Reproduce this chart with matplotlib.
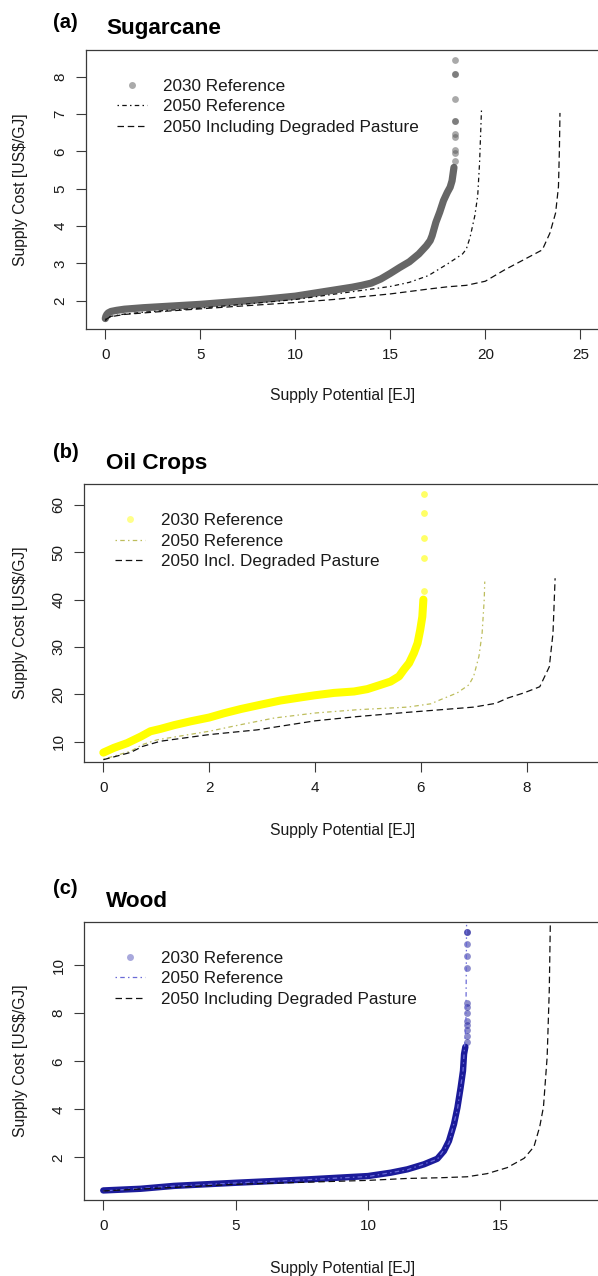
import matplotlib
matplotlib.use("Agg")
import matplotlib.pyplot as plt
from matplotlib.lines import Line2D

plt.rcParams['font.family'] = ['Liberation Sans', 'DejaVu Sans']

# ---------------- data ----------------
# (a) Sugarcane
sug_2030_x = [0, 0.03, 0.08, 0.15, 0.3, 0.6, 1.0, 2.0, 3.0, 4.0, 5.0, 6.0, 7.0, 8.0, 9.0,
              10.0, 11.0, 12.0, 13.0, 13.5, 14.0, 14.5, 15.0, 15.5, 16.0, 16.5, 16.9, 17.1,
              17.2, 17.4, 17.6, 17.8, 18.0, 18.15, 18.25, 18.3, 18.35]
sug_2030_y = [1.52, 1.58, 1.63, 1.67, 1.71, 1.74, 1.77, 1.81, 1.84, 1.87, 1.90, 1.94, 1.98, 2.02, 2.07,
              2.12, 2.20, 2.28, 2.36, 2.41, 2.47, 2.58, 2.73, 2.89, 3.04, 3.25, 3.47, 3.61,
              3.74, 4.10, 4.37, 4.68, 4.90, 5.04, 5.21, 5.39, 5.57]
sug_2030_tail_x = [18.4, 18.4, 18.4, 18.4, 18.4, 18.4, 18.4, 18.4, 18.4, 18.4, 18.4]
sug_2030_tail_y = [5.75, 5.95, 6.03, 6.38, 6.46, 6.82, 6.82, 7.40, 8.07, 8.07, 8.46]
sug_2050_x = [0, 0.1, 0.3, 1, 2, 3, 5, 7, 10, 12, 14, 15, 16, 17, 18, 18.8, 19.0, 19.2,
              19.45, 19.6, 19.7, 19.75, 19.8]
sug_2050_y = [1.49, 1.54, 1.58, 1.64, 1.69, 1.73, 1.80, 1.89, 2.03, 2.17, 2.31, 2.38, 2.49, 2.67,
              2.98, 3.25, 3.38, 3.70, 4.28, 4.81, 5.71, 6.42, 7.12]
sug_2050dp_x = [0, 0.1, 0.3, 1, 2, 3, 5, 7, 10, 12, 13, 15, 17, 18, 19, 20, 21, 22, 23,
                23.4, 23.7, 23.85, 23.9, 23.93]
sug_2050dp_y = [1.46, 1.52, 1.57, 1.63, 1.67, 1.71, 1.78, 1.85, 1.95, 2.03, 2.08, 2.18, 2.31, 2.37,
                2.41, 2.52, 2.82, 3.09, 3.36, 3.81, 4.35, 5.05, 6.04, 7.03]

# (b) Oil crops
oil_2030_x = [0, 0.2, 0.45, 0.71, 0.89, 1.08, 1.34, 1.65, 2.0, 2.28, 2.6, 2.97, 3.35, 3.73,
              4.0, 4.36, 4.74, 4.99, 5.24, 5.43, 5.59, 5.68, 5.78, 5.87, 5.94, 5.99, 6.03, 6.05]
oil_2030_y = [7.7, 8.7, 9.7, 11.1, 12.2, 12.7, 13.5, 14.3, 15.1, 16.0, 16.9, 17.8, 18.7, 19.35,
              19.8, 20.3, 20.6, 21.1, 22.0, 22.7, 23.8, 25.2, 26.6, 28.7, 30.8, 33.6, 36.4, 40.0]
oil_2030_tail_x = [6.07, 6.07, 6.07, 6.07, 6.07]
oil_2030_tail_y = [41.9, 48.8, 52.9, 58.2, 62.2]
oil_2050_x = [0, 0.52, 0.74, 1.02, 2.0, 2.6, 3.23, 4.0, 4.8, 5.75, 6.19, 6.38, 6.69, 6.91,
              7.0, 7.1, 7.16, 7.2, 7.21]
oil_2050_y = [6.3, 8.0, 9.4, 10.4, 12.2, 13.6, 15.0, 16.05, 16.75, 17.3, 18.0, 18.9, 20.3, 22.0,
              23.8, 28.0, 32.9, 40.0, 43.8]
oil_2050dp_x = [0, 0.52, 0.74, 1.08, 2.0, 2.91, 4.0, 4.8, 5.75, 6.38, 7.0, 7.42, 7.64, 7.95,
                8.25, 8.43, 8.5, 8.54]
oil_2050dp_y = [6.2, 7.75, 9.0, 10.1, 11.5, 12.5, 14.4, 15.3, 16.2, 16.75, 17.3, 18.1, 19.2, 20.3,
                21.6, 25.8, 32.9, 44.5]

# (c) Wood
wood_2030_x = [0, 1.41, 2.67, 5.0, 7.71, 10.0, 10.86, 11.49, 12.12, 12.62, 12.87, 13.06, 13.25,
               13.38, 13.5, 13.59, 13.63, 13.68]
wood_2030_y = [0.62, 0.69, 0.81, 0.94, 1.08, 1.22, 1.36, 1.5, 1.71, 1.94, 2.26, 2.68, 3.38,
               4.07, 4.9, 5.6, 6.3, 6.6]
wood_2030_tail_x = [13.73] * 13
wood_2030_tail_y = [6.8, 7.06, 7.3, 7.5, 7.68, 8.0, 8.26, 8.44, 9.9, 10.4, 10.9, 11.4, 11.4]
wood_2050_x = [0, 2.67, 5.0, 7.71, 10.0, 11.49, 12.62, 13.06, 13.38, 13.59, 13.7, 13.73]
wood_2050_y = [0.6, 0.8, 0.93, 1.07, 1.2, 1.48, 1.92, 2.6, 4.0, 5.6, 7.5, 12.5]
wood_2050dp_x = [0, 5.0, 10.0, 11.49, 12.75, 13.75, 14.5, 15.26, 15.9, 16.27, 16.49, 16.63,
                 16.77, 16.85, 16.9]
wood_2050dp_y = [0.6, 0.875, 1.04, 1.12, 1.15, 1.19, 1.32, 1.57, 1.96, 2.44, 3.28, 4.1,
                 6.19, 8.97, 12.5]

panel_letters = ["(a)", "(b)", "(c)"]
panel_titles = ["Sugarcane", "Oil Crops", "Wood"]
legend_labels = [
    ["2030 Reference", "2050 Reference", "2050 Including Degraded Pasture"],
    ["2030 Reference", "2050 Reference", "2050 Incl. Degraded Pasture"],
    ["2030 Reference", "2050 Reference", "2050 Including Degraded Pasture"],
]
xticks = [[0, 5, 10, 15, 20, 25], [0, 2, 4, 6, 8], [0, 5, 10, 15]]
yticks = [[2, 3, 4, 5, 6, 7, 8], [10, 20, 30, 40, 50, 60], [2, 4, 6, 8, 10]]
xlims = [(-1, 26), (-0.36, 9.4), (-0.72, 18.8)]
ylims = [(1.24, 8.73), (5.65, 64.4), (0.21, 11.8)]

# ---------------- layout ----------------
W, H = 598, 1276
fig = plt.figure(figsize=(W / 100, H / 100), dpi=100)

def fx(px):
    return px / W

def fy(py):
    return 1 - py / H

# axes pixel boxes: left, right, top, bottom
boxes = [(86.3, 599.3, 49.5, 329.0), (84.3, 600.6, 484.0, 762.3), (84.2, 600.9, 922.0, 1200.3)]
letter_base = [28.5, 457.7, 894.3]
title_base = [34.0, 469.3, 907.3]
xlabel_y = [396.0, 831.0, 1268.5]

DOTDASH = (0, (1.2, 2.6, 3.6, 2.6))
DASHED = (0, (5.2, 3.0))
SPINE = '#3a3a3a'

styles = [
    dict(band='#666666', dot='#555555', dot_alpha=0.5, leg_dot='#aaaaaa', band_lw=5.2,
         ref_col='#111111', dp_col='#111111'),
    dict(band='#ffff00', dot='#ffff00', dot_alpha=0.6, leg_dot='#ffff8a', band_lw=5.8,
         ref_col='#bdbd5c', dp_col='#111111'),
    dict(band='#1b1b9a', dot='#1b1b9a', dot_alpha=0.5, leg_dot='#a8a8dc', band_lw=4.6,
         ref_col='#6a6ad6', dp_col='#111111'),
]

series = [
    (sug_2030_x, sug_2030_y, sug_2030_tail_x, sug_2030_tail_y, sug_2050_x, sug_2050_y, sug_2050dp_x, sug_2050dp_y),
    (oil_2030_x, oil_2030_y, oil_2030_tail_x, oil_2030_tail_y, oil_2050_x, oil_2050_y, oil_2050dp_x, oil_2050dp_y),
    (wood_2030_x, wood_2030_y, wood_2030_tail_x, wood_2030_tail_y, wood_2050_x, wood_2050_y, wood_2050dp_x, wood_2050dp_y),
]

legend_rows = [85.0, 519.2, 957.0]
legend_left = [116.7, 114.7, 114.7]

for i in range(3):
    l, r, t, b = boxes[i]
    ax = fig.add_axes([fx(l), fy(b), (r - l) / W, (b - t) / H])
    st = styles[i]
    x30, y30, tx, ty, x50, y50, xdp, ydp = series[i]

    # 2030 reference: dense band of points + sparse tail points
    ax.plot(x30, y30, color=st['band'], lw=st['band_lw'], solid_capstyle='round',
            solid_joinstyle='round', zorder=3)
    ax.plot(tx, ty, linestyle='none', marker='o', markersize=4.9, markeredgewidth=0,
            color=st['dot'], alpha=st['dot_alpha'], zorder=3)
    # 2050 lines
    ax.plot(x50, y50, color=st['ref_col'], lw=0.9, linestyle=DOTDASH, zorder=4)
    ax.plot(xdp, ydp, color=st['dp_col'], lw=0.9, linestyle=DASHED, zorder=4)

    ax.set_xlim(*xlims[i])
    ax.set_ylim(*ylims[i])
    ax.set_xticks(xticks[i])
    ax.set_yticks(yticks[i])
    for s in ax.spines.values():
        s.set_color(SPINE)
        s.set_linewidth(0.9)
    ax.tick_params(axis='both', direction='out', length=7.2, width=0.8, color=SPINE,
                   labelsize=11, labelcolor='#1a1a1a')
    ax.tick_params(axis='x', pad=6.5)
    ax.tick_params(axis='y', pad=6.3)
    plt.setp(ax.get_yticklabels(), rotation=90, va='center', ha='right')

    # legend
    handles = [
        Line2D([], [], linestyle='none', marker='o', markersize=5, markeredgewidth=0,
               color=st['leg_dot']),
        Line2D([], [], color=st['ref_col'], lw=0.9, linestyle=DOTDASH),
        Line2D([], [], color=st['dp_col'], lw=0.9, linestyle=DASHED),
    ]
    top = legend_rows[i] - 6.0
    leg = ax.legend(handles, legend_labels[i], loc='upper left',
                    bbox_to_anchor=(fx(legend_left[i]), fy(top)),
                    bbox_transform=fig.transFigure, frameon=False, fontsize=12.3,
                    handlelength=1.75, handletextpad=0.95, labelspacing=0.32,
                    borderpad=0, borderaxespad=0)
    for txt in leg.get_texts():
        txt.set_color('#1a1a1a')

    # texts
    cx = (l + r) / 2
    fig.text(fx(cx), fy(xlabel_y[i]), "Supply Potential [EJ]", ha='center', va='center',
             fontsize=11.3, color='#1a1a1a')
    fig.text(fx(20.5), fy((t + b) / 2), "Supply Cost [US$/GJ]", ha='center', va='center',
             rotation=90, fontsize=11.3, color='#1a1a1a')
    fig.text(fx(53.0), fy(letter_base[i]), panel_letters[i], ha='left', va='baseline',
             fontsize=14.5, fontweight='bold', color='black')
    fig.text(fx(106.0), fy(title_base[i]), panel_titles[i], ha='left', va='baseline',
             fontsize=16.2, fontweight='bold', color='black')

fig.savefig("out.png", dpi=100)
